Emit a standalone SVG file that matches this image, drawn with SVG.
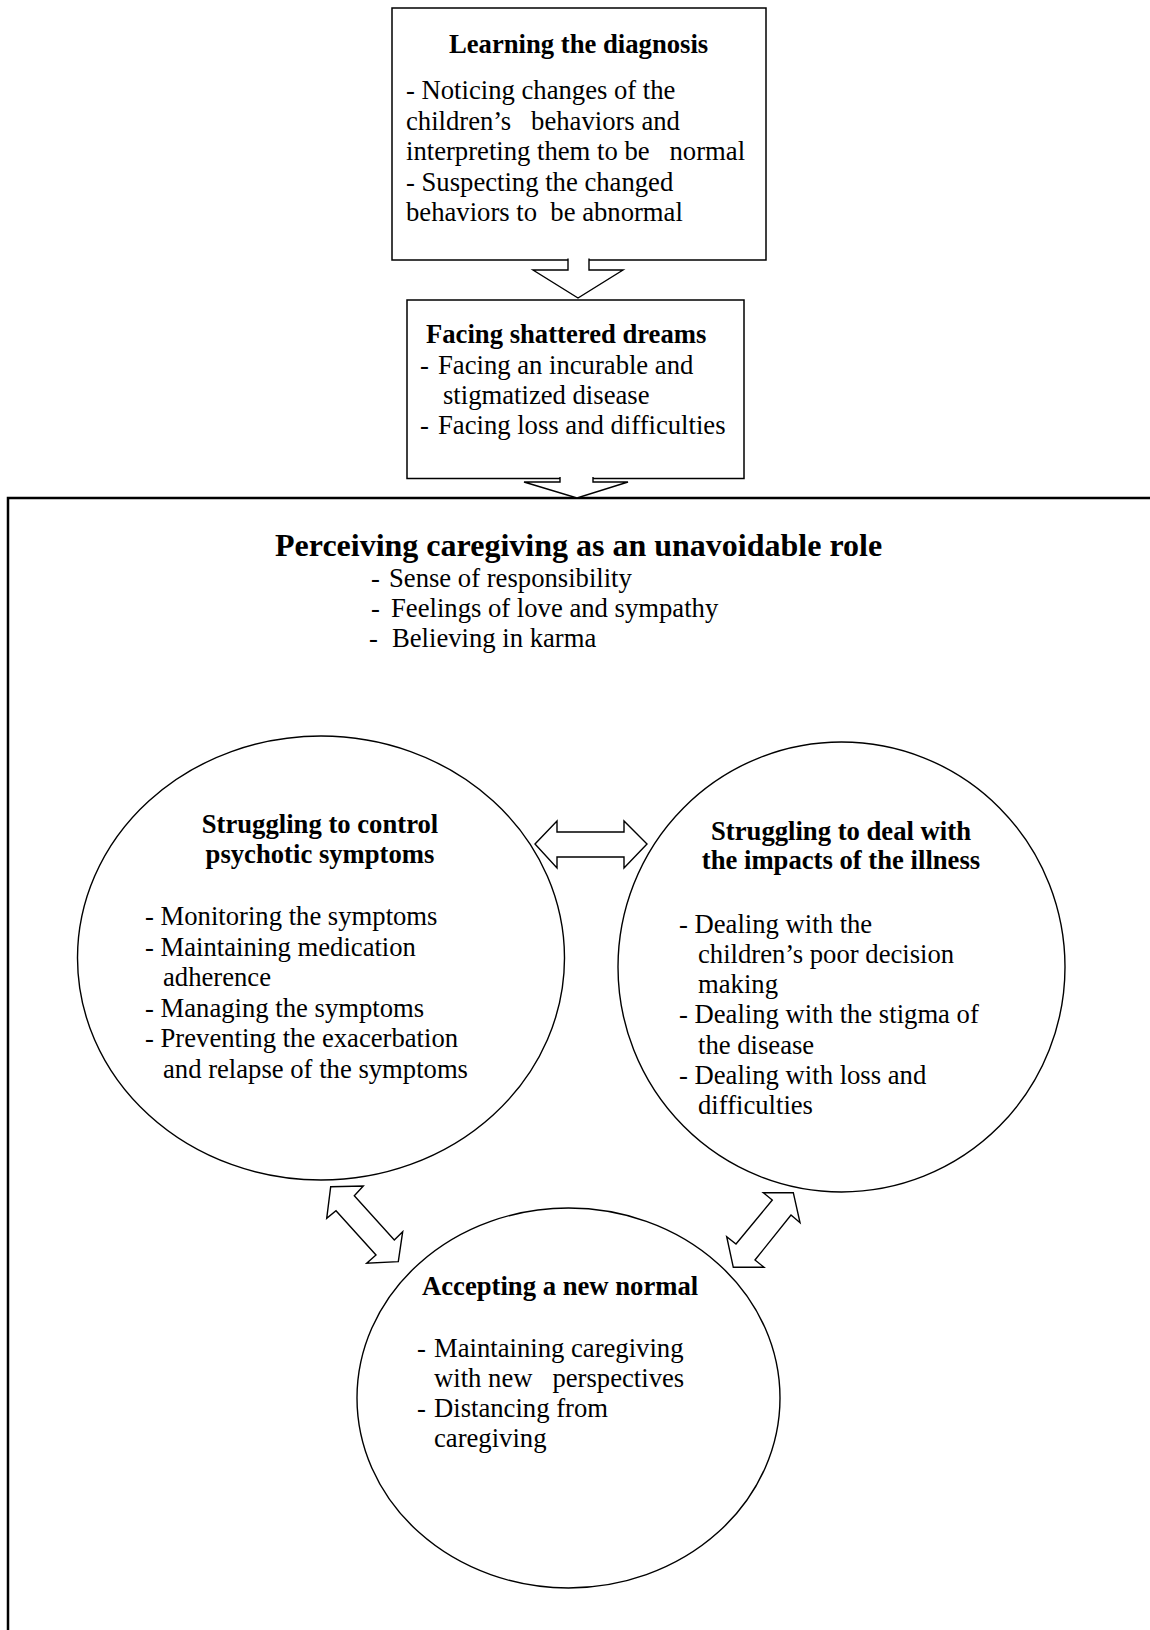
<svg xmlns="http://www.w3.org/2000/svg" width="1150" height="1630" viewBox="0 0 1150 1630">
<style>
.t { font-family: "Liberation Serif", "Times New Roman", serif; font-size: 26.67px; fill: #000; }
.b { font-weight: bold; }
.h { font-family: "Liberation Serif", "Times New Roman", serif; font-size: 32px; font-weight: bold; fill: #000; }
.box { fill: #fff; stroke: #000; stroke-width: 1.5; }
.frame { fill: #fff; stroke: #000; stroke-width: 2.5; }
.oval { fill: #fff; stroke: #000; stroke-width: 1.4; }
.arrow { fill: #fff; stroke: #000; stroke-width: 1.4; stroke-linejoin: miter; }
</style>
<rect width="1150" height="1630" fill="#fff"/>

<g id="perceiving-caregiving">
  <rect class="frame" x="8" y="498" width="1160" height="1160"/>
  <text class="h" x="275" y="556">Perceiving caregiving as an unavoidable role</text>
  <text class="t"><tspan x="371" y="587">-</tspan><tspan x="389" y="587">Sense of responsibility</tspan></text>
  <text class="t"><tspan x="371" y="617">-</tspan><tspan x="391" y="617">Feelings of love and sympathy</tspan></text>
  <text class="t"><tspan x="369" y="647">-</tspan><tspan x="392" y="647">Believing in karma</tspan></text>
</g>

<g id="learning-diagnosis">
  <rect class="box" x="392" y="8" width="374" height="252"/>
  <text class="t b" x="449" y="53">Learning the diagnosis</text>
  <text class="t" x="406" y="99">- Noticing changes of the</text>
  <text class="t" x="406" y="129.5" xml:space="preserve">children’s   behaviors and</text>
  <text class="t" x="406" y="160" xml:space="preserve">interpreting them to be   normal</text>
  <text class="t" x="406" y="190.5">- Suspecting the changed</text>
  <text class="t" x="406" y="221" xml:space="preserve">behaviors to  be abnormal</text>
</g>

<g id="facing-shattered-dreams">
  <rect class="box" x="407" y="300" width="337" height="178.5"/>
  <text class="t b" x="426" y="343">Facing shattered dreams</text>
  <text class="t"><tspan x="420" y="374">-</tspan><tspan x="438" y="374">Facing an incurable and</tspan></text>
  <text class="t" x="443" y="404">stigmatized disease</text>
  <text class="t"><tspan x="420" y="434">-</tspan><tspan x="438" y="434">Facing loss and difficulties</tspan></text>
</g>

<g id="struggling-control">
  <ellipse class="oval" cx="321" cy="958" rx="243.5" ry="222"/>
  <text class="t b" x="320" y="833" text-anchor="middle">Struggling to control</text>
  <text class="t b" x="320" y="863" text-anchor="middle">psychotic symptoms</text>
  <text class="t" x="145" y="925">- Monitoring the symptoms</text>
  <text class="t" x="145" y="955.5">- Maintaining medication</text>
  <text class="t" x="163" y="986">adherence</text>
  <text class="t" x="145" y="1016.5">- Managing the symptoms</text>
  <text class="t" x="145" y="1047">- Preventing the exacerbation</text>
  <text class="t" x="163" y="1077.5">and relapse of the symptoms</text>
</g>

<g id="struggling-impacts">
  <ellipse class="oval" cx="841.5" cy="967" rx="223.5" ry="225"/>
  <text class="t b" x="841" y="840" text-anchor="middle">Struggling to deal with</text>
  <text class="t b" x="841" y="869" text-anchor="middle">the impacts of the illness</text>
  <text class="t" x="679" y="933">- Dealing with the</text>
  <text class="t" x="698" y="963">children’s poor decision</text>
  <text class="t" x="698" y="993">making</text>
  <text class="t" x="679" y="1023">- Dealing with the stigma of</text>
  <text class="t" x="698" y="1053.5">the disease</text>
  <text class="t" x="679" y="1084">- Dealing with loss and</text>
  <text class="t" x="698" y="1114">difficulties</text>
</g>

<g id="accepting-new-normal">
  <ellipse class="oval" cx="568.5" cy="1398" rx="211.5" ry="190"/>
  <text class="t b" x="422" y="1295">Accepting a new normal</text>
  <text class="t"><tspan x="417" y="1357">-</tspan><tspan x="434" y="1357">Maintaining caregiving</tspan></text>
  <text class="t" x="434" y="1387" xml:space="preserve">with new   perspectives</text>
  <text class="t"><tspan x="417" y="1417">-</tspan><tspan x="434" y="1417">Distancing from</tspan></text>
  <text class="t" x="434" y="1447">caregiving</text>
</g>

<g id="connectors">
  <path class="arrow" d="M568,258.5 V270 H533 L578,298 L623,270 H589 V258.5"/>
  <path class="arrow" d="M560,477 V482 H524 L577,498 L628,482 H593 V477"/>
  <polygon class="arrow" points="535,844 557,821 557,832 624,832 624,821 647,844 624,868 624,857 557,857 557,868"/>
  <polygon class="arrow" points="330.7,1186.7 363.3,1186 354.3,1195.7 394.3,1240 402.7,1231.7 398.3,1261.7 366.7,1263.3 376,1255 336,1210.7 326.7,1218.3"/>
  <polygon class="arrow" points="793.3,1192.7 763.3,1192.7 772.3,1200 736,1244 726.7,1236.7 733.3,1267.3 764,1267.3 755,1260 791,1215 800,1222.7"/>
</g>
</svg>
